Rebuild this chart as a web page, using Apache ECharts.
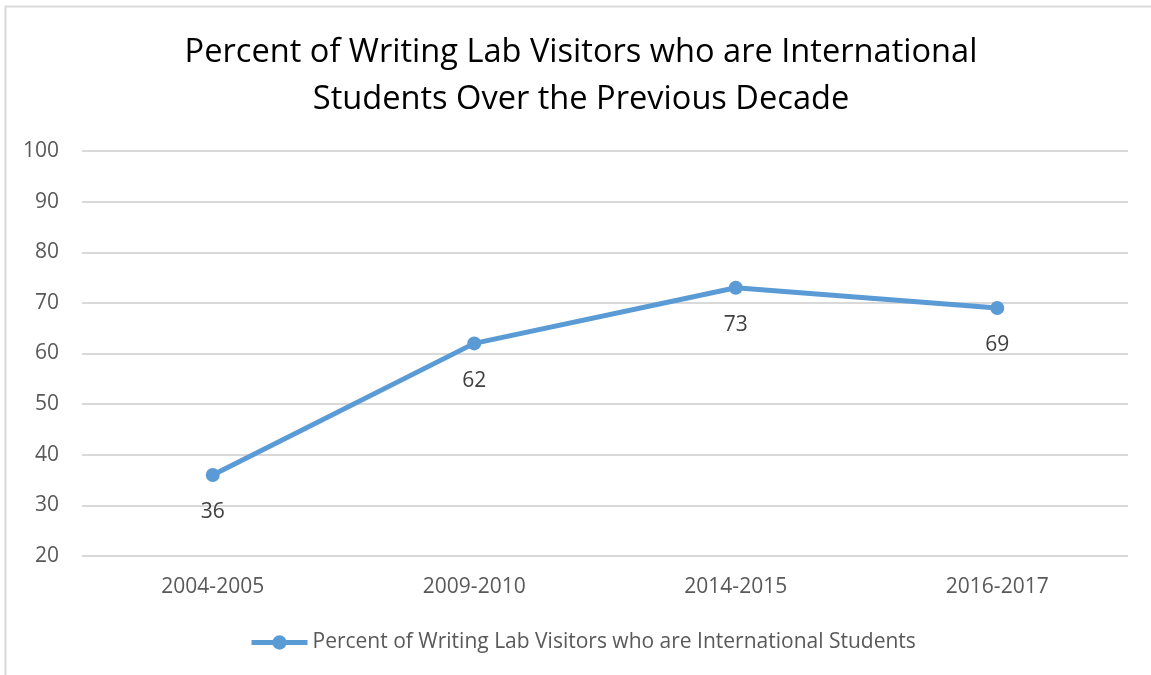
<!DOCTYPE html>
<html>
<head>
<meta charset="utf-8">
<script src="https://cdn.jsdelivr.net/npm/echarts@6/dist/echarts.min.js"></script>
<style>
  html, body { margin: 0; padding: 0; background: #ffffff; }
  #chart { width: 1151px; height: 675px; }
</style>
</head>
<body>
<div id="chart"></div>
<script>
// Academic years shown on the category axis
const years = ['2004-2005', '2009-2010', '2014-2015', '2016-2017'];
// Share of writing lab visitors who are international students (%)
const percentInternational = [36, 62, 73, 69];
const seriesName = 'Percent of Writing Lab Visitors who are International Students';
const titleText = 'Percent of Writing Lab Visitors who are International\nStudents Over the Previous Decade';

const FONT = '"Open Sans", "Noto Sans", sans-serif';
const BLUE = '#5B9BD5';

const chart = echarts.init(document.getElementById('chart'), null, { renderer: 'canvas' });

chart.setOption({
  backgroundColor: '#ffffff',
  animation: false,
  graphic: [{
    type: 'rect',
    shape: { x: 5.5, y: 6.5, width: 1300, height: 800 },
    style: { fill: 'none', stroke: '#d9d9d9', lineWidth: 2 },
    silent: true
  }],
  title: {
    text: titleText,
    left: 576,
    textAlign: 'center',
    top: 24,
    textStyle: {
      fontFamily: FONT,
      fontSize: 32.6,
      fontWeight: 'normal',
      color: '#000000',
      lineHeight: 47
    }
  },
  legend: {
    data: [seriesName],
    bottom: 17,
    left: 244,
    itemWidth: 56,
    itemHeight: 18,
    itemGap: 5,
    lineStyle: { width: 5 },
    textStyle: { fontFamily: FONT, fontSize: 21, color: '#595959' }
  },
  grid: { left: 82, right: 23, top: 151, bottom: 119, containLabel: false },
  xAxis: {
    type: 'category',
    data: years,
    boundaryGap: true,
    axisLine: { show: false },
    axisTick: { show: false },
    axisLabel: { fontFamily: FONT, fontSize: 21, color: '#595959', margin: 21 }
  },
  yAxis: {
    type: 'value',
    min: 20,
    max: 100,
    interval: 10,
    axisLine: { show: false },
    axisTick: { show: false },
    axisLabel: { fontFamily: FONT, fontSize: 21, color: '#595959', margin: 23 },
    splitLine: { lineStyle: { color: '#d9d9d9', width: 2 } }
  },
  series: [{
    name: seriesName,
    type: 'line',
    data: percentInternational,
    symbol: 'circle',
    symbolSize: 14,
    lineStyle: { color: BLUE, width: 5 },
    itemStyle: { color: BLUE },
    label: {
      show: true,
      position: 'bottom',
      distance: 20,
      fontFamily: FONT,
      fontSize: 21,
      color: '#404040'
    }
  }]
});
</script>
</body>
</html>
